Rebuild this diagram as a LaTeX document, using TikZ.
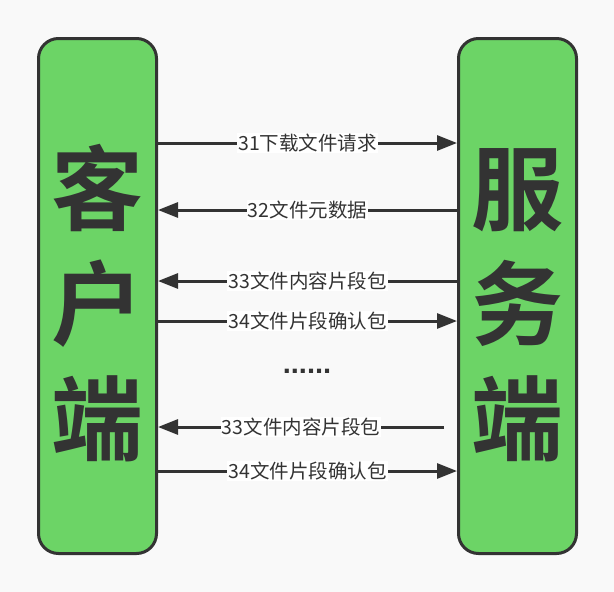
\documentclass[tikz,border=0pt]{standalone}
\usepackage{fontspec}
\setmainfont{Noto Sans CJK SC}
\newfontfamily\sidefont{Noto Sans CJK SC Bold}
\newfontfamily\dotfont{Liberation Sans}
\usetikzlibrary{arrows.meta,positioning}
\definecolor{boxgreen}{HTML}{6CD466}
\definecolor{inkgray}{HTML}{333333}
\definecolor{paper}{HTML}{F9F9F9}

\begin{document}
\begin{tikzpicture}[
    x=1pt, y=-1pt,
    >={Triangle[length=20pt,width=15pt]},
    side/.style={draw=inkgray,line width=3pt,fill=boxgreen,rounded corners=20pt,
      minimum width=118pt,minimum height=515pt,align=center,text=inkgray,
      font=\sidefont\fontsize{92}{115}\selectfont},
    msg/.style={draw=inkgray,line width=3pt,->},
    tag/.style={fill=white,inner sep=1pt,text=inkgray,font=\fontsize{19.5}{20}\selectfont}
  ]
    \fill[paper] (0,0) rectangle (614,592);
    \useasboundingbox (0,0) rectangle (614,592);

    \node[side] (client) at (97.5,296) {\rule{0pt}{94pt}客\\户\\端};
    \node[side] (server) at (517.5,296) {\rule{0pt}{94pt}服\\务\\端};

    % message rows
    \coordinate (r1) at (307,143);
    \coordinate (r2) at (307,210);
    \coordinate (r3) at (307,281);
    \coordinate (r4) at (307,321);
    \coordinate (r5) at (444,427);
    \coordinate (r6) at (307,471);

    \draw[msg] (client.east |- r1) -- node[tag] {31下载文件请求} (server.west |- r1);
    \draw[msg] (server.west |- r2) -- node[tag] {32文件元数据} (client.east |- r2);
    \draw[msg] (server.west |- r3) -- node[tag] {33文件内容片段包} (client.east |- r3);
    \draw[msg] (client.east |- r4) -- node[tag] {34文件片段确认包} (server.west |- r4);
    \node[text=inkgray,font=\dotfont\bfseries\fontsize{29}{29}\selectfont] (gap) at (307,371) {......};
    \draw[msg] (r5) -- node[tag] {33文件内容片段包} (client.east |- r5);
    \draw[msg] (client.east |- r6) -- node[tag] {34文件片段确认包} (server.west |- r6);
\end{tikzpicture}
\end{document}
